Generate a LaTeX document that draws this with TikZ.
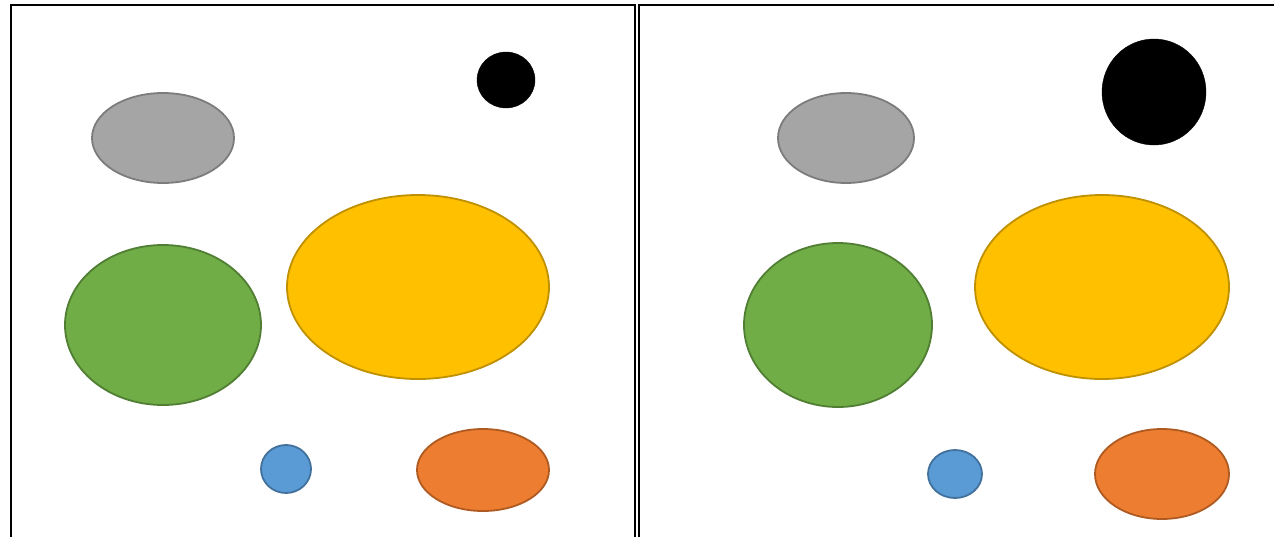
\documentclass[tikz,border=0pt]{standalone}
\begin{document}
\begin{tikzpicture}[x=1pt,y=-1pt,
  frame/.style={draw=black,line width=2.2pt},
  blob/.style={line width=1.8pt},
  gray blob/.style={blob,fill={rgb,255:red,165;green,165;blue,165},draw={rgb,255:red,124;green,124;blue,124}},
  yellow blob/.style={blob,fill={rgb,255:red,255;green,192;blue,0},draw={rgb,255:red,191;green,144;blue,0}},
  green blob/.style={blob,fill={rgb,255:red,112;green,173;blue,71},draw={rgb,255:red,80;green,126;blue,50}},
  blue blob/.style={blob,fill={rgb,255:red,91;green,155;blue,213},draw={rgb,255:red,65;green,113;blue,156}},
  orange blob/.style={blob,fill={rgb,255:red,237;green,125;blue,49},draw={rgb,255:red,174;green,90;blue,33}},
  black blob/.style={fill=black,draw=black}]
\useasboundingbox (0,0) rectangle (1274,536);
% frames
\draw[frame] (11,545) -- (11,5) -- (635,5) -- (635,545);
\draw[frame] (639,545) -- (639,5) -- (1285,5);
% left panel
\path[black blob] (506,80) ellipse [x radius=29, y radius=28];
\path[gray blob] (163,138) ellipse [x radius=71, y radius=45];
\path[yellow blob] (418,287) ellipse [x radius=131, y radius=92];
\path[green blob] (163,325) ellipse [x radius=98, y radius=80];
\path[blue blob] (286,469) ellipse [x radius=25, y radius=24];
\path[orange blob] (483,470) ellipse [x radius=66, y radius=41];
% right panel
\path[black blob] (1154,92) ellipse [x radius=52, y radius=53];
\path[gray blob] (846,138) ellipse [x radius=68, y radius=45];
\path[yellow blob] (1102,287) ellipse [x radius=127, y radius=92];
\path[green blob] (838,325) ellipse [x radius=94, y radius=82];
\path[blue blob] (955,474) ellipse [x radius=27, y radius=24];
\path[orange blob] (1162,474) ellipse [x radius=67, y radius=45];
\end{tikzpicture}
\end{document}
